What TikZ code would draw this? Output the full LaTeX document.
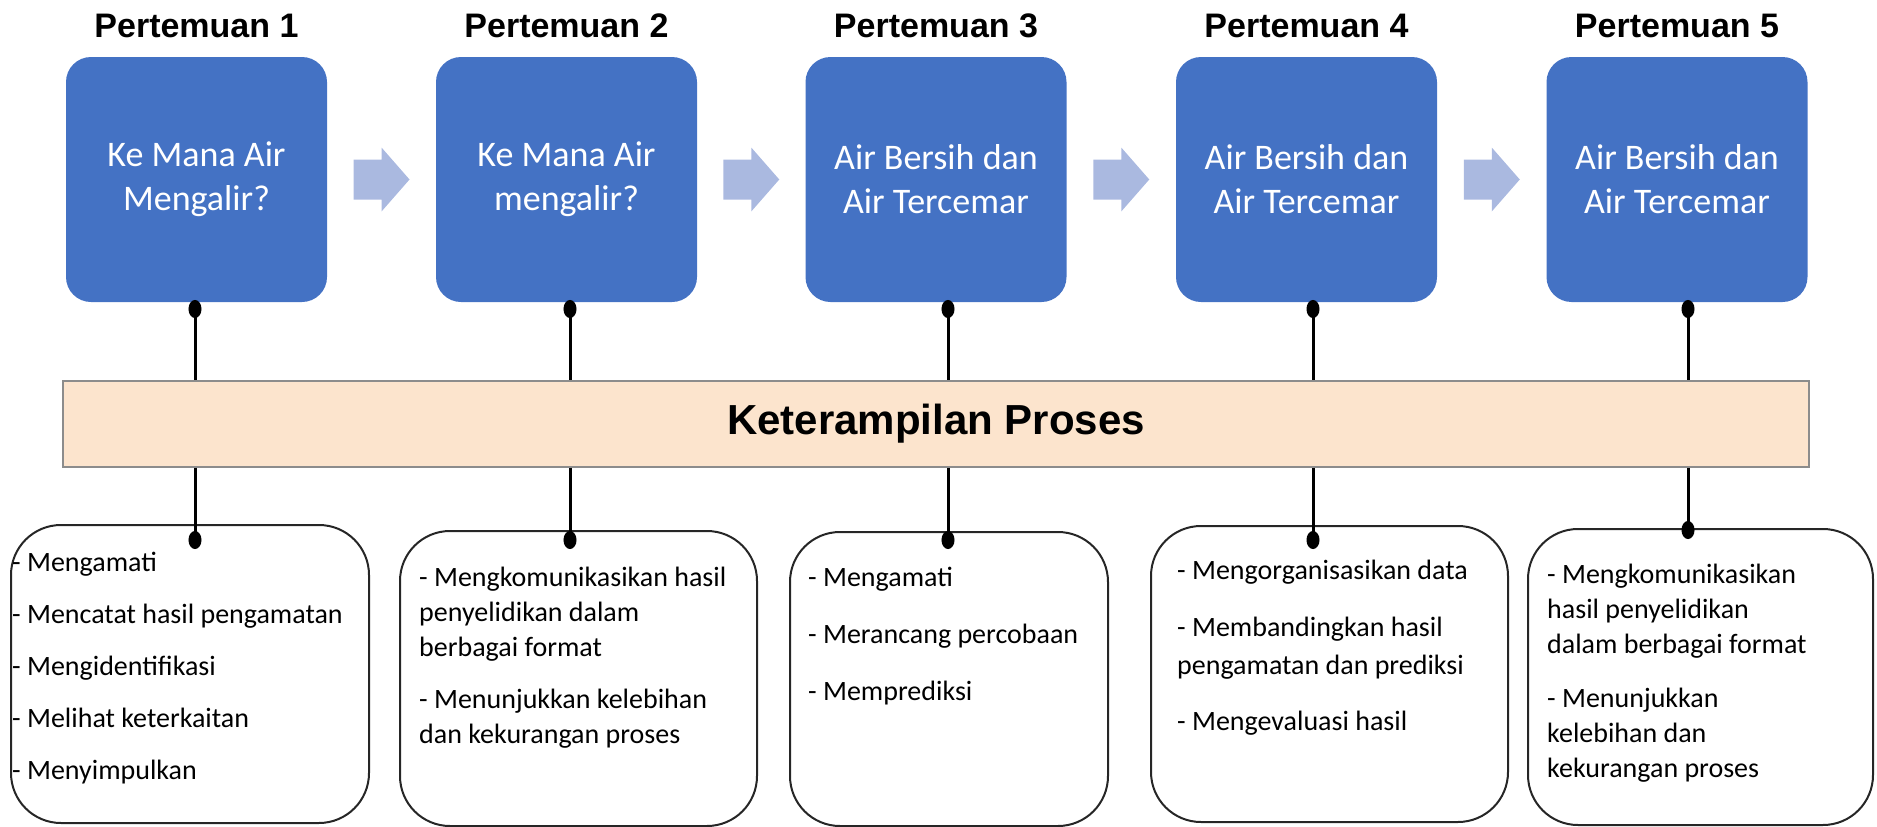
\documentclass[tikz,border=0pt]{standalone}
\usepackage{fontspec}
\setmainfont{Carlito}
\newfontfamily\headfont{Liberation Sans}
\usetikzlibrary{positioning, calc, arrows.meta}

\definecolor{boxblue}{HTML}{4472C4}
\definecolor{flowblue}{RGB}{170,185,224}
\definecolor{barpeach}{HTML}{FCE4CD}
\definecolor{bargray}{HTML}{8C8C8C}

\tikzset{
  flowarrow/.pic={\fill[flowblue] (-28,-20) -- (0,-20) -- (0,-32) -- (28,0) -- (0,32) -- (0,20) -- (-28,20) -- cycle;}
}

\begin{document}
\begin{tikzpicture}[x=1pt, y=-1pt,
  title/.style={inner sep=0pt, font=\headfont\bfseries\fontsize{34}{40}\selectfont},
  topic/.style={rectangle, rounded corners=25pt, fill=boxblue, text=white, align=center,
    minimum width=261pt, minimum height=245pt, font=\fontsize{36}{44}\selectfont},
  skill/.style={rectangle, rounded corners=50pt, draw=black!85, line width=2pt},
  skilltext/.style={anchor=north west, inner sep=0pt, align=left, font=\fontsize{28}{35}\selectfont},
  link/.style={line width=3pt},
  knob/.tip={Ellipse[length=18pt, width=13pt]}
]
\useasboundingbox (0,0) rectangle (1877,827);

% meetings
\node[topic] (topic1) at (196.5,179.5) {Ke Mana Air\\Mengalir?};
\node[topic] (topic2) at (566.5,179.5) {Ke Mana Air\\mengalir?};
\node[topic] (topic3) at (936,179.5) {Air Bersih dan\\Air Tercemar};
\node[topic] (topic4) at (1306.5,179.5) {Air Bersih dan\\Air Tercemar};
\node[topic] (topic5) at (1677,179.5) {Air Bersih dan\\Air Tercemar};

\node[title, above=19pt of topic1] (title1) {Pertemuan 1};
\node[title, above=19pt of topic2] (title2) {Pertemuan 2};
\node[title, above=19pt of topic3] (title3) {Pertemuan 3};
\node[title, above=19pt of topic4] (title4) {Pertemuan 4};
\node[title, above=19pt of topic5] (title5) {Pertemuan 5};

\pic at ($(topic1.east)!.5!(topic2.west)$) {flowarrow};
\pic at ($(topic2.east)!.5!(topic3.west)$) {flowarrow};
\pic at ($(topic3.east)!.5!(topic4.west)$) {flowarrow};
\pic at ($(topic4.east)!.5!(topic5.west)$) {flowarrow};

% process skills
\node[draw=bargray, line width=1.5pt, fill=barpeach, minimum width=1746pt, minimum height=86pt,
  font=\headfont\bfseries\fontsize{42}{50}\selectfont] (bar) at (936,424) {Keterampilan Proses};

\node[skill, minimum width=358pt, minimum height=298pt] (skill1) at (190,674) {};
\node[skill, minimum width=357pt, minimum height=295pt] (skill2) at (578.5,678.5) {};
\node[skill, minimum width=318pt, minimum height=294pt] (skill3) at (949,679) {};
\node[skill, minimum width=357pt, minimum height=296pt] (skill4) at (1329.5,674) {};
\node[skill, minimum width=345pt, minimum height=296pt] (skill5) at (1700.5,677) {};

\node[skilltext] (list1) at (12,546.5) {\strut- Mengamati\\[17pt]- Mencatat hasil pengamatan\\[17pt]- Mengidentifikasi\\[17pt]- Melihat keterkaitan\\[17pt]- Menyimpulkan};
\node[skilltext] (list2) at (419,561.5) {\strut- Mengkomunikasikan hasil\\penyelidikan dalam\\berbagai format\\[17pt]- Menunjukkan kelebihan\\dan kekurangan proses};
\node[skilltext] (list3) at (808,561.5) {\strut- Mengamati\\[22pt]- Merancang percobaan\\[22pt]- Memprediksi};
\node[skilltext] (list4) at (1177,554.5) {\strut- Mengorganisasikan data\\[22pt]- Membandingkan hasil\\[3pt]pengamatan dan prediksi\\[21pt]- Mengevaluasi hasil};
\node[skilltext] (list5) at (1547,558.5) {\strut- Mengkomunikasikan\\hasil penyelidikan\\dalam berbagai format\\[19pt]- Menunjukkan\\kelebihan dan\\kekurangan proses};

% connectors
\coordinate (t1) at (195,300);
\coordinate (t2) at (570,300);
\coordinate (t3) at (948,300);
\coordinate (t4) at (1313,300);
\coordinate (t5) at (1688,300);
\coordinate (b1) at (195,549);
\coordinate (b2) at (570,549);
\coordinate (b3) at (948,549);
\coordinate (b4) at (1313,549);
\coordinate (b5) at (1688,539);

\draw[link, knob-] (t1) -- (t1 |- bar.north);
\draw[link, knob-] (t2) -- (t2 |- bar.north);
\draw[link, knob-] (t3) -- (t3 |- bar.north);
\draw[link, knob-] (t4) -- (t4 |- bar.north);
\draw[link, knob-] (t5) -- (t5 |- bar.north);
\draw[link, -knob] (t1 |- bar.south) -- (b1);
\draw[link, -knob] (t2 |- bar.south) -- (b2);
\draw[link, -knob] (t3 |- bar.south) -- (b3);
\draw[link, -knob] (t4 |- bar.south) -- (b4);
\draw[link, -knob] (t5 |- bar.south) -- (b5);
\end{tikzpicture}
\end{document}
